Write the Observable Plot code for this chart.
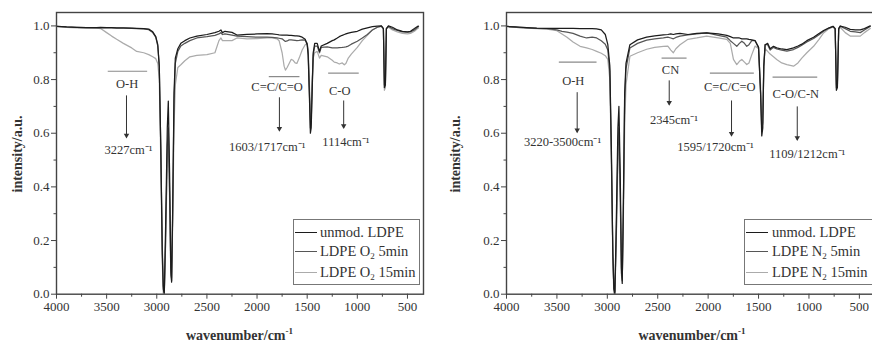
<!DOCTYPE html>
<html><head><meta charset="utf-8">
<script src="https://cdn.jsdelivr.net/npm/d3@7"></script>
<script src="https://cdn.jsdelivr.net/npm/@observablehq/plot@0.6"></script>
<style>
html,body{margin:0;padding:0;background:#fff;overflow:hidden;width:872px;height:342px}
#wrap{position:relative;width:872px;height:342px;font-family:"Liberation Serif",serif;color:#333;overflow:hidden}
.panel{position:absolute;top:0}
.legend{position:absolute;box-sizing:border-box;border:1.3px solid #777;background:#fff;font-size:14.5px;color:#333}
.row{position:absolute;left:0;height:20px;width:200px}
.sw{position:absolute;width:22px;height:0;border-top:1.3px solid}
.tx{position:absolute;white-space:nowrap;line-height:20px}
.tx sub{font-size:9px;vertical-align:-3px}
.ylab{position:absolute;font-weight:bold;font-size:14px;white-space:nowrap;transform:translate(-50%,-50%) rotate(-90deg);line-height:16px}
.xlab{position:absolute;font-weight:bold;font-size:14px;white-space:nowrap;transform:translateX(-50%);line-height:16px}
.xlab sup{font-size:9px;vertical-align:6px}
</style></head>
<body><div id="wrap"></div>
<script>
// ---- tick values ----
const xMajor = [4000,3500,3000,2500,2000,1500,1000,500];
const xMinor = [3750,3250,2750,2250,1750,1250,750];
const yMajor = [0,0.2,0.4,0.6,0.8,1.0];
const yMinor = [0.1,0.3,0.5,0.7,0.9];

// ---- left panel (O2 plasma) ----
const leftWn = [4000,3900,3800,3700,3600,3560,3500,3450,3400,3333,3250,3200,3130,3080,3040,3010,2990,2975,2960,2945,2935,2925,2912,2895,2885,2872,2860,2852,2842,2828,2815,2790,2760,2720,2670,2600,2500,2420,2380,2360,2345,2320,2250,2200,2100,2000,1900,1850,1800,1780,1750,1730,1717,1700,1680,1660,1640,1620,1603,1580,1550,1520,1500,1490,1475,1468,1460,1450,1440,1425,1400,1377,1360,1300,1250,1230,1200,1180,1150,1130,1114,1090,1060,1000,950,900,850,800,760,740,730,720,710,690,650,600,550,500,470,430,400,390];
const leftUnmod = [.998,.996,.995,.994,.994,.995,.994,.994,.993,.993,.992,.991,.990,.988,.978,.960,.930,.850,.550,.150,.020,.000,.250,.620,.720,.450,.100,.045,.300,.750,.880,.915,.935,.945,.955,.962,.968,.975,.980,.985,.975,.980,.976,.966,.968,.970,.971,.970,.968,.967,.966,.966,.966,.966,.965,.965,.964,.963,.963,.962,.958,.950,.930,.890,.700,.600,.620,.760,.900,.935,.935,.905,.925,.935,.945,.948,.955,.960,.965,.968,.970,.973,.976,.980,.988,.993,.997,.999,1.000,.990,.770,.780,.990,1.000,.995,.985,.980,.978,.980,.990,.998,.999];
const leftO2_5 = [.998,.996,.995,.994,.993,.994,.993,.993,.992,.992,.991,.990,.989,.986,.975,.958,.925,.850,.550,.180,.030,.010,.200,.550,.620,.380,.080,.050,.280,.720,.860,.905,.925,.935,.945,.955,.960,.965,.970,.975,.968,.970,.966,.962,.960,.958,.958,.957,.955,.954,.952,.946,.942,.944,.948,.948,.947,.946,.945,.946,.948,.947,.935,.900,.720,.620,.640,.780,.890,.925,.925,.900,.920,.922,.918,.918,.918,.919,.920,.921,.922,.925,.932,.943,.955,.968,.985,.995,.999,.990,.780,.790,.990,.998,.990,.983,.978,.977,.978,.985,.995,.997];
const leftO2_15 = [.998,.995,.993,.992,.992,.990,.975,.962,.950,.935,.918,.905,.900,.893,.885,.878,.860,.800,.500,.120,.000,.000,.180,.500,.580,.350,.070,.060,.250,.620,.780,.845,.855,.870,.885,.890,.893,.900,.945,.955,.945,.945,.945,.955,.952,.953,.955,.955,.952,.945,.900,.850,.835,.845,.860,.875,.872,.862,.860,.880,.910,.930,.935,.910,.750,.650,.680,.800,.880,.900,.905,.880,.890,.885,.872,.865,.862,.858,.862,.855,.860,.880,.895,.920,.945,.965,.985,.995,.998,.990,.760,.770,.990,.995,.985,.978,.972,.970,.972,.980,.990,.992];
const leftNotes = [
  {group:"O-H", peak:"3227cm⁻¹", barFrom:3489, barTo:3096, barY:0.831, groupX:3295, groupY:0.784, arrowX:3302, arrowFrom:0.741, arrowTo:0.585, peakX:3282, peakY:0.536},
  {group:"C=C/C=O", peak:"1603/1717cm⁻¹", barFrom:1883, barTo:1577, barY:0.811, groupX:1800, groupY:0.774, arrowX:1777, arrowFrom:0.734, arrowTo:0.610, peakX:1899, peakY:0.548},
  {group:"C-O", peak:"1114cm⁻¹", barFrom:1291, barTo:986, barY:0.824, groupX:1175, groupY:0.759, arrowX:1136, arrowFrom:0.722, arrowTo:0.620, peakX:1114, peakY:0.567}
];
const leftSeries = ["unmod. LDPE","LDPE O<sub>2</sub> 5min","LDPE O<sub>2</sub> 15min"];

// ---- right panel (N2 plasma) ----
const rightWn = [4000,3900,3800,3700,3600,3500,3450,3400,3340,3270,3206,3150,3106,3060,3020,2995,2975,2960,2945,2935,2925,2912,2895,2885,2872,2860,2852,2842,2828,2815,2776,2700,2610,2530,2444,2400,2370,2345,2320,2279,2200,2113,2014,1900,1815,1780,1749,1716,1690,1666,1640,1617,1595,1567,1534,1500,1480,1468,1458,1448,1435,1410,1385,1352,1320,1270,1219,1153,1109,1071,1021,954,900,855,800,760,740,728,718,705,690,640,591,540,491,450,392];
const rightUnmod = [.998,.996,.994,.992,.991,.991,.991,.991,.991,.990,.990,.990,.989,.985,.968,.930,.850,.550,.150,.020,.000,.250,.620,.700,.450,.100,.040,.300,.750,.860,.930,.948,.958,.963,.967,.968,.970,.968,.970,.972,.968,.972,.974,.970,.965,.960,.955,.955,.955,.952,.952,.952,.950,.948,.945,.920,.750,.590,.620,.850,.930,.935,.915,.924,.918,.914,.912,.918,.925,.932,.945,.958,.972,.983,.993,.998,.990,.760,.770,.990,.999,.995,.987,.985,.985,.990,1.000];
const rightN2_5 = [.998,.995,.993,.991,.990,.985,.980,.977,.972,.962,.955,.958,.955,.945,.932,.910,.830,.520,.150,.020,.010,.200,.550,.620,.380,.080,.050,.280,.720,.840,.918,.935,.947,.952,.955,.958,.955,.952,.957,.962,.967,.970,.974,.965,.958,.945,.935,.924,.935,.943,.935,.924,.930,.945,.945,.920,.750,.610,.640,.850,.930,.930,.910,.920,.914,.910,.906,.912,.920,.928,.940,.953,.967,.980,.992,.998,.990,.770,.780,.990,.999,.990,.980,.978,.975,.985,.998];
const rightN2_15 = [.998,.995,.992,.990,.988,.982,.970,.958,.940,.924,.918,.912,.905,.898,.889,.875,.800,.500,.120,.000,.000,.180,.500,.560,.350,.070,.060,.250,.620,.780,.887,.900,.913,.920,.924,.925,.910,.900,.915,.930,.950,.955,.962,.955,.950,.935,.875,.856,.868,.875,.865,.856,.862,.893,.925,.915,.780,.640,.680,.850,.915,.905,.895,.885,.875,.862,.856,.850,.862,.880,.900,.924,.950,.974,.990,.996,.985,.780,.790,.985,.995,.975,.962,.962,.962,.975,.990];
const rightNotes = [
  {group:"O-H", peak:"3220-3500cm⁻¹", barFrom:3481, barTo:3107, barY:0.865, groupX:3338, groupY:0.796, arrowX:3299, arrowFrom:0.753, arrowTo:0.604, peakX:3444, peakY:0.567},
  {group:"CN", peak:"2345cm⁻¹", barFrom:2462, barTo:2214, barY:0.880, groupX:2373, groupY:0.834, arrowX:2386, arrowFrom:0.797, arrowTo:0.707, peakX:2338, peakY:0.651},
  {group:"C=C/C=O", peak:"1595/1720cm⁻¹", barFrom:1983, barTo:1547, barY:0.824, groupX:1785, groupY:0.774, arrowX:1768, arrowFrom:0.722, arrowTo:0.591, peakX:1927, peakY:0.548},
  {group:"C-O/C-N", peak:"1109/1212cm⁻¹", barFrom:1361, barTo:918, barY:0.809, groupX:1130, groupY:0.747, arrowX:1116, arrowFrom:0.700, arrowTo:0.575, peakX:1016, peakY:0.523}
];
const rightSeries = ["unmod. LDPE","LDPE N<sub>2</sub> 5min","LDPE N<sub>2</sub> 15min"];

const xLabel = 'wavenumber/cm<sup>-1</sup>';
const yLabel = 'intensity/a.u.';

const colors = ["#1c1c1c","#565656","#ababab"];

function panel(wn, a, b, c, notes, width) {
  const rows = arr => wn.map((w, i) => ({wn: w, v: arr[i]}));
  return Plot.plot({
    width, height: 342,
    marginLeft: 56, marginRight: 13, marginTop: 12, marginBottom: 48.3,
    x: {domain: [4000, 340], label: null},
    y: {domain: [0, 1.05], label: null},
    style: {fontFamily: '"Liberation Serif", serif', fontSize: "13px", color: "#333", background: "transparent", overflow: "visible"},
    marks: [
      Plot.axisX(xMinor, {tickSize: 3, tickFormat: () => "", label: null, stroke: "#444"}),
      Plot.axisX(xMajor, {tickSize: 5, tickPadding: 3, tickFormat: d => String(d), label: null, stroke: "#444"}),
      Plot.axisY(yMinor, {tickSize: 2.5, tickFormat: () => "", label: null, stroke: "#444"}),
      Plot.axisY(yMajor, {tickSize: 5, tickPadding: 2, tickFormat: d3.format(".1f"), label: null, stroke: "#444"}),
      Plot.line(rows(c), {x: "wn", y: "v", stroke: colors[2], strokeWidth: 1.25, clip: true}),
      Plot.line(rows(b), {x: "wn", y: "v", stroke: colors[1], strokeWidth: 1.25, clip: true}),
      Plot.line(rows(a), {x: "wn", y: "v", stroke: colors[0], strokeWidth: 1.25, clip: true}),
      Plot.link(notes, {x1: "barFrom", x2: "barTo", y1: "barY", y2: "barY", stroke: "#8a8a8a", strokeWidth: 1.2}),
      Plot.link(notes, {x1: "arrowX", x2: "arrowX", y1: "arrowFrom", y2: "arrowTo", stroke: "#333", strokeWidth: 1}),
      Plot.dot(notes, {x: "arrowX", y: "arrowTo", symbol: "triangle2", rotate: 180, r: 2.6, fill: "#333", stroke: "none", dy: -2}),
      Plot.text(notes, {x: "groupX", y: "groupY", text: "group", fontSize: 12.5, fill: "#333"}),
      Plot.text(notes, {x: "peakX", y: "peakY", text: "peak", fontSize: 12.5, fill: "#333"}),
      Plot.frame({stroke: "#444", strokeWidth: 1.4})
    ]
  });
}

function legend(names, left, width, swLeft, txLeft) {
  const box = document.createElement("div");
  box.className = "legend";
  Object.assign(box.style, {left: left + "px", top: "219.3px", width: width + "px", height: "65.7px"});
  const tops = [1.7, 20.7, 41.7];
  names.forEach((n, i) => {
    const r = document.createElement("div");
    r.className = "row";
    r.style.top = tops[i] + "px";
    r.innerHTML = `<div class="sw" style="left:${swLeft}px;top:10px;border-color:${colors[i]}"></div><div class="tx" style="left:${txLeft}px;top:0">${n}</div>`;
    box.appendChild(r);
  });
  return box;
}

const wrap = document.getElementById("wrap");
const p1 = panel(leftWn, leftUnmod, leftO2_5, leftO2_15, leftNotes, 436);
p1.classList.add("panel"); p1.style.left = "0px";
const p2 = panel(rightWn, rightUnmod, rightN2_5, rightN2_15, rightNotes, 438);
p2.classList.add("panel"); p2.style.left = "450px";
wrap.appendChild(p1); wrap.appendChild(p2);
wrap.appendChild(legend(leftSeries, 292.7, 127.3, 1.3, 26.3));
wrap.appendChild(legend(rightSeries, 743.7, 150, 1.3, 27.3));

function addLab(cls, html, x, y) {
  const d = document.createElement("div");
  d.className = cls; d.innerHTML = html;
  d.style.left = x + "px"; d.style.top = y + "px";
  wrap.appendChild(d);
}
addLab("ylab", yLabel, 18, 154);
addLab("ylab", yLabel, 456, 154);
addLab("xlab", xLabel, 239.5, 323);
addLab("xlab", xLabel, 692, 323);
</script>
</body></html>
